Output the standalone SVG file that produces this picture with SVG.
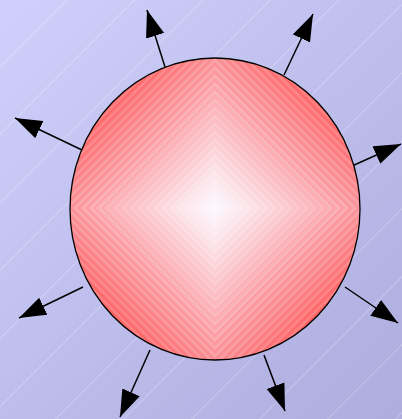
<svg xmlns="http://www.w3.org/2000/svg" xmlns:xlink="http://www.w3.org/1999/xlink" width="402" height="419" viewBox="0 0 402 419">
  <defs>
    <linearGradient id="bg" x1="0" y1="0" x2="402" y2="419" gradientUnits="userSpaceOnUse">
      <stop offset="0" stop-color="#d0d0fc"/>
      <stop offset="1" stop-color="#adadde"/>
    </linearGradient>
    <linearGradient id="bgStripe" x1="0" y1="0" x2="34" y2="34" gradientUnits="userSpaceOnUse" spreadMethod="repeat">
      <stop offset="0" stop-color="#fff" stop-opacity="0"/>
      <stop offset="0.965" stop-color="#fff" stop-opacity="0"/>
      <stop offset="0.982" stop-color="#fff" stop-opacity="0.3"/>
      <stop offset="1" stop-color="#fff" stop-opacity="0"/>
    </linearGradient>
    <linearGradient id="qBR" x1="215" y1="208" x2="325" y2="318" gradientUnits="userSpaceOnUse">
      <stop offset="0" stop-color="#fbf8ff"/>
      <stop offset="0.18" stop-color="#fce0e6"/>
      <stop offset="0.45" stop-color="#fbb2b8"/>
      <stop offset="0.75" stop-color="#fa8086"/>
      <stop offset="1" stop-color="#ff5656"/>
    </linearGradient>
    <linearGradient id="qTR" xlink:href="#qBR" x1="215" y1="208" x2="325" y2="98"/>
    <linearGradient id="qTL" xlink:href="#qBR" x1="215" y1="208" x2="105" y2="98"/>
    <linearGradient id="qBL" xlink:href="#qBR" x1="215" y1="208" x2="105" y2="318"/>
    <linearGradient id="sBR" x1="215" y1="208" x2="219" y2="212" gradientUnits="userSpaceOnUse" spreadMethod="repeat">
      <stop offset="0" stop-color="#fff" stop-opacity="0"/>
      <stop offset="0.5" stop-color="#fff" stop-opacity="0.22"/>
      <stop offset="1" stop-color="#fff" stop-opacity="0"/>
    </linearGradient>
    <linearGradient id="sTR" xlink:href="#sBR" x1="215" y1="208" x2="219" y2="204"/>
    <linearGradient id="sTL" xlink:href="#sBR" x1="215" y1="208" x2="211" y2="204"/>
    <linearGradient id="sBL" xlink:href="#sBR" x1="215" y1="208" x2="211" y2="212"/>
    <clipPath id="clipE">
      <ellipse cx="215" cy="209" rx="145" ry="151"/>
    </clipPath>
    <marker id="head" markerUnits="userSpaceOnUse" markerWidth="28" markerHeight="20" refX="27" refY="9.5" orient="auto" viewBox="0 0 28 19">
      <path d="M0,0 L27,9.5 L0,19 Z" fill="#000"/>
    </marker>
    <style>
      .arrow { stroke: #000; stroke-width: 1.5; fill: none; marker-end: url(#head); }
      .outline { fill: none; stroke: #000; stroke-width: 1.3; }
    </style>
  </defs>

  <rect x="0" y="0" width="402" height="419" fill="url(#bg)"/>
  <rect x="0" y="0" width="402" height="419" fill="url(#bgStripe)"/>

  <g id="connectors">
    <line class="arrow" x1="165" y1="67" x2="147" y2="10"/>
    <line class="arrow" x1="284" y1="75" x2="313" y2="14"/>
    <line class="arrow" x1="82" y1="150" x2="15" y2="118"/>
    <line class="arrow" x1="352" y1="166" x2="401" y2="144"/>
    <line class="arrow" x1="83" y1="287" x2="19" y2="318"/>
    <line class="arrow" x1="345" y1="287" x2="398" y2="323"/>
    <line class="arrow" x1="150" y1="350" x2="120" y2="417"/>
    <line class="arrow" x1="264" y1="355" x2="285" y2="411"/>
  </g>

  <g id="sphere">
    <g clip-path="url(#clipE)">
      <rect x="215" y="208" width="150" height="160" fill="url(#qBR)"/>
      <rect x="215" y="50" width="150" height="158" fill="url(#qTR)"/>
      <rect x="60" y="50" width="155" height="158" fill="url(#qTL)"/>
      <rect x="60" y="208" width="155" height="160" fill="url(#qBL)"/>
      <rect x="215" y="208" width="150" height="160" fill="url(#sBR)"/>
      <rect x="215" y="50" width="150" height="158" fill="url(#sTR)"/>
      <rect x="60" y="50" width="155" height="158" fill="url(#sTL)"/>
      <rect x="60" y="208" width="155" height="160" fill="url(#sBL)"/>
    </g>
    <ellipse class="outline" cx="215" cy="209" rx="145" ry="151"/>
  </g>
</svg>
